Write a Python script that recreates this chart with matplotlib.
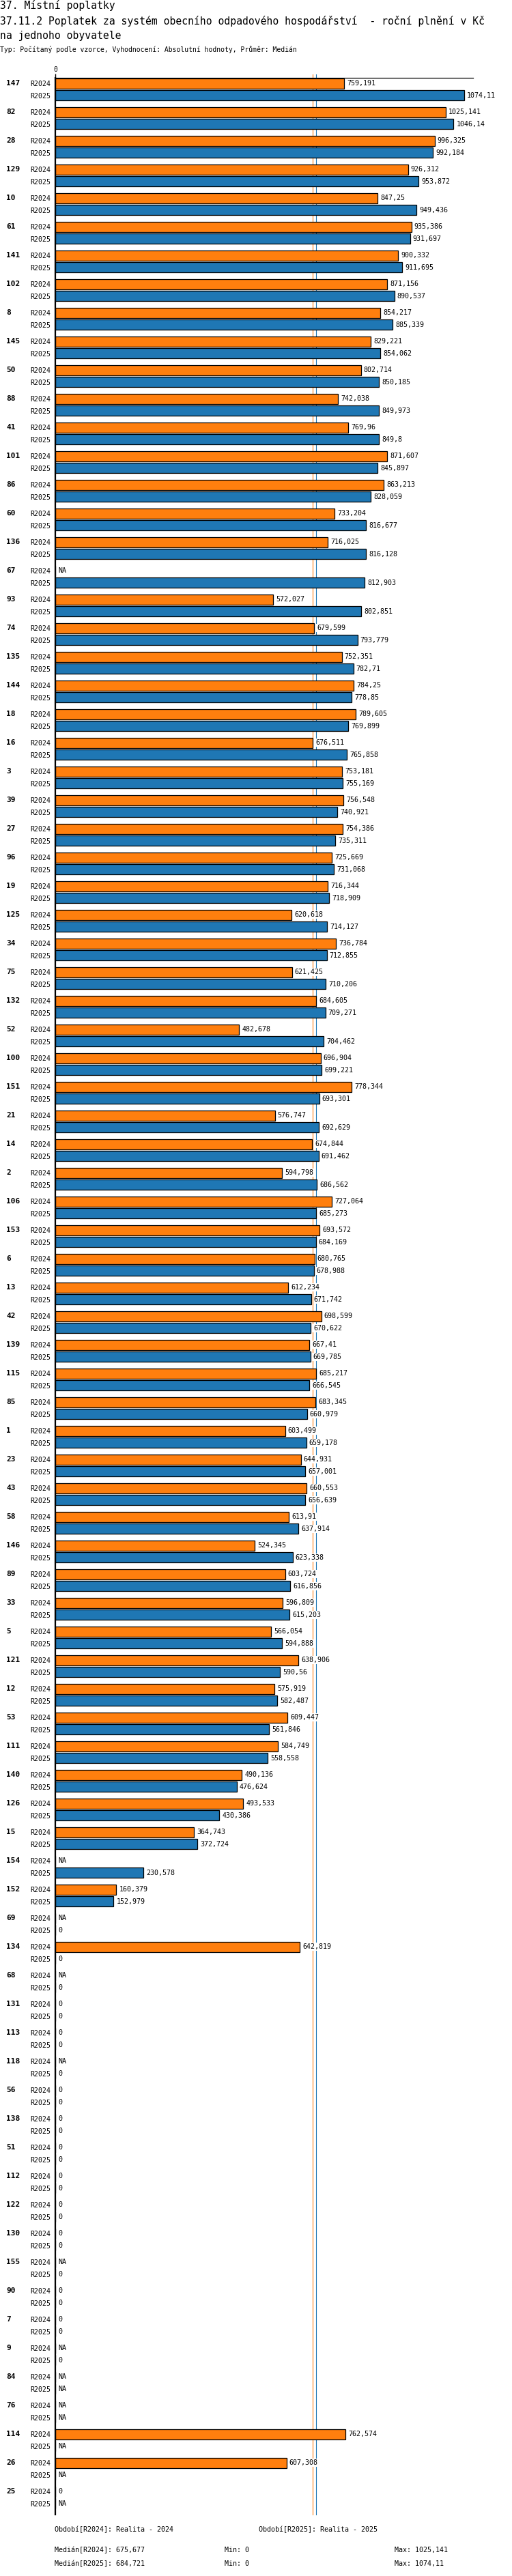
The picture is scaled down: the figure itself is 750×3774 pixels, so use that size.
import numpy as np
import matplotlib
matplotlib.use("Agg")
import matplotlib.pyplot as plt
from decimal import Decimal, ROUND_DOWN

NA = np.nan

groups = [147, 82, 28, 129, 10, 61, 141, 102, 8, 145,
          50, 88, 41, 101, 86, 60, 136, 67, 93, 74,
          135, 144, 18, 16, 3, 39, 27, 96, 19, 125,
          34, 75, 132, 52, 100, 151, 21, 14, 2, 106,
          153, 6, 13, 42, 139, 115, 85, 1, 23, 43,
          58, 146, 89, 33, 5, 121, 12, 53, 111, 140,
          126, 15, 154, 152, 69, 134, 68, 131, 113, 118,
          56, 138, 51, 112, 122, 130, 155, 90, 7, 9,
          84, 76, 114, 26, 25]

r2024 = [759.191, 1025.141, 996.325, 926.312, 847.25, 935.386, 900.332, 871.156, 854.217, 829.221,
         802.714, 742.038, 769.96, 871.607, 863.213, 733.204, 716.025, NA, 572.027, 679.599,
         752.351, 784.25, 789.605, 676.511, 753.181, 756.548, 754.386, 725.669, 716.344, 620.618,
         736.784, 621.425, 684.605, 482.678, 696.904, 778.344, 576.747, 674.844, 594.798, 727.064,
         693.572, 680.765, 612.234, 698.599, 667.41, 685.217, 683.345, 603.499, 644.931, 660.553,
         613.91, 524.345, 603.724, 596.809, 566.054, 638.906, 575.919, 609.447, 584.749, 490.136,
         493.533, 364.743, NA, 160.379, NA, 642.819, NA, 0, 0, NA,
         0, 0, 0, 0, 0, 0, NA, 0, 0, NA,
         NA, NA, 762.574, 607.308, 0]

r2025 = [1074.11, 1046.14, 992.184, 953.872, 949.436, 931.697, 911.695, 890.537, 885.339, 854.062,
         850.185, 849.973, 849.8, 845.897, 828.059, 816.677, 816.128, 812.903, 802.851, 793.779,
         782.71, 778.85, 769.899, 765.858, 755.169, 740.921, 735.311, 731.068, 718.909, 714.127,
         712.855, 710.206, 709.271, 704.462, 699.221, 693.301, 692.629, 691.462, 686.562, 685.273,
         684.169, 678.988, 671.742, 670.622, 669.785, 666.545, 660.979, 659.178, 657.001, 656.639,
         637.914, 623.338, 616.856, 615.203, 594.888, 590.56, 582.487, 561.846, 558.558, 476.624,
         430.386, 372.724, 230.578, 152.979, 0, 0, 0, 0, 0, 0,
         0, 0, 0, 0, 0, 0, 0, 0, 0, 0,
         NA, NA, NA, NA, NA]

series_names = ["R2024", "R2025"]
series_colors = ["#ff7f0e", "#1f77b4"]

title1 = "37. Místní poplatky"
title2 = "37.11.2 Poplatek za systém obecního odpadového hospodářství  - roční plnění v Kč"
title3 = "na jednoho obyvatele"
subtitle = "Typ: Počítaný podle vzorce, Vyhodnocení: Absolutní hodnoty, Průměr: Medián"
period_labels = ["Období[R2024]: Realita - 2024", "Období[R2025]: Realita - 2025"]

plt.rcParams['font.family'] = ['DejaVu Sans Mono']

W, H = 750, 3774
SLOT = 42  # px per group


def fmt(v):
    if np.isnan(v):
        return "NA"
    d = Decimal(repr(float(v))).quantize(Decimal("0.001"), rounding=ROUND_DOWN)
    s = format(d, 'f').rstrip('0').rstrip('.')
    return s.replace('.', ',')


def fx(px):
    return px / W


def fy(py):
    return 1 - py / H


def main():
    fig = plt.figure(figsize=(W / 100, H / 100), dpi=100)
    n = len(groups)
    ax_left, ax_right = 81, 693
    ax_top, ax_bottom = 114.3, 114.3 + n * SLOT
    ax = fig.add_axes([fx(ax_left), fy(ax_bottom), (ax_right - ax_left) / W,
                       (ax_bottom - ax_top) / H])

    data = [np.array(r2024, dtype=float), np.array(r2025, dtype=float)]
    xmax = 1097.4
    ax.set_xlim(0, xmax)
    ax.set_ylim(n * SLOT, 0)

    # median lines behind the bars
    medians = [np.nanmedian(d) for d in data]
    for med, col in zip(medians, series_colors):
        ax.plot([med, med], [-5, n * SLOT], color=col, lw=0.8, zorder=1, clip_on=False)

    offsets = [7.9, 25.5]
    ticks, ticklabels = [], []
    for s in range(2):
        ys = np.arange(n) * SLOT + offsets[s]
        vals = np.nan_to_num(data[s], nan=0.0)
        ax.barh(ys, vals, height=15, color=series_colors[s], edgecolor='black',
                linewidth=0.9, zorder=2)
        for y, v in zip(ys, data[s]):
            xv = 0 if np.isnan(v) else v
            ax.annotate(fmt(v), (xv, y), xytext=(3, 0), textcoords='offset points',
                        va='center', ha='left', fontsize=7.2, zorder=3,
                        bbox=dict(facecolor='white', edgecolor='none', pad=0.6))
            ticks.append(y)
            ticklabels.append(series_names[s])

    for i, g in enumerate(groups):
        ax.text((9 - ax_left) / (ax_right - ax_left), i * SLOT + offsets[0], str(g),
                transform=ax.get_yaxis_transform(), ha='left', va='center',
                fontsize=8, fontweight='bold')

    ax.set_yticks(ticks)
    ax.set_yticklabels(ticklabels, fontsize=7.1)
    ax.tick_params(axis='y', length=0, pad=5)

    ax.xaxis.tick_top()
    ax.set_xticks([0])
    ax.set_xticklabels(["0"], fontsize=7)
    ax.tick_params(axis='x', length=4.5, width=1, pad=1)

    ax.spines['right'].set_visible(False)
    ax.spines['bottom'].set_visible(False)
    ax.spines['left'].set_linewidth(1.6)
    ax.spines['top'].set_linewidth(0.9)

    fig.text(0, fy(8.3), title1, fontsize=10.6, va='center', ha='left')
    fig.text(0, fy(30.7), title2, fontsize=10.6, va='center', ha='left')
    fig.text(0, fy(52.7), title3, fontsize=10.6, va='center', ha='left')
    fig.text(0, fy(72.7), subtitle, fontsize=7, va='center', ha='left')

    fig.text(fx(80), fy(3706), period_labels[0], fontsize=7.2, va='center')
    fig.text(fx(379), fy(3706), period_labels[1], fontsize=7.2, va='center')
    for k, yy in enumerate([3736, 3756]):
        fig.text(fx(80), fy(yy), f"Medián[{series_names[k]}]: {fmt(medians[k])}",
                 fontsize=7.2, va='center')
        fig.text(fx(329), fy(yy), f"Min: {fmt(np.nanmin(data[k]))}", fontsize=7.2, va='center')
        fig.text(fx(578), fy(yy), f"Max: {fmt(np.nanmax(data[k]))}", fontsize=7.2, va='center')

    fig.savefig("out.png", dpi=100, facecolor='white')


if __name__ == "__main__":
    main()
